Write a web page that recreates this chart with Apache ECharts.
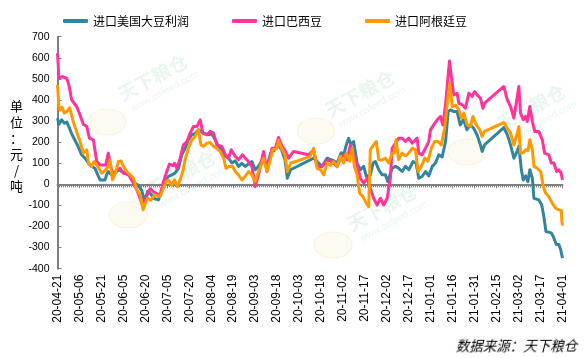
<!DOCTYPE html>
<html><head><meta charset="utf-8">
<script src="https://cdn.jsdelivr.net/npm/echarts@6/dist/echarts.min.js"></script>
<style>html,body{margin:0;padding:0;background:#fff}#wrap{position:relative;width:585px;height:358px}#c{width:585px;height:358px}
#src{position:absolute;left:455px;top:336px;font:13.5px "Noto Sans CJK SC",sans-serif;line-height:18px;color:#000;white-space:nowrap;transform:skewX(-14deg);transform-origin:0 100%}</style>
</head><body><div id="wrap"><div id="c"></div><div id="src"></div></div>
<script>
// x values are days since 2020-04-21
const startDate = '2020-04-21';
const sourceNote = '数据来源：天下粮仓';
const tickLabels = ['20-04-21','20-05-06','20-05-21','20-06-05','20-06-20','20-07-05','20-07-20','20-08-04','20-08-19','20-09-03','20-09-18','20-10-03','20-10-18','20-11-02','20-11-17','20-12-02','20-12-17','21-01-01','21-01-16','21-01-31','21-02-15','21-03-02','21-03-17','21-04-01'];
const yTicks = [-400,-300,-200,-100,0,100,200,300,400,500,600,700];
const seriesNames = ['进口美国大豆利润','进口巴西豆','进口阿根廷豆'];
const seriesColors = ['#31859C','#FF3399','#FF9900'];

const usData = [[0,314],[1,285],[2.9,306],[4.7,290],[6.3,295],[7.9,271],[9.7,240],[11.9,209],[14.2,178],[16.5,140],[18.8,124],[21,101],[23.3,85],[25.6,76],[27.5,45],[29.1,21],[32.5,21],[33.5,45],[34.7,61],[37,45],[39.2,53],[41.6,69],[43.8,61],[46.2,53],[48.4,45],[50.7,37],[53,5],[55.3,-5],[57.6,-30],[59.4,-81],[61.6,-33],[63.8,-45],[65.5,-66],[68.9,-74],[71.2,-33],[73.5,13],[75.7,37],[78,45],[80.3,53],[82.6,76],[84.9,140],[87.2,171],[89.4,211],[91.7,235],[94,240],[96.3,259],[98.6,248],[100.9,240],[103.1,235],[105.4,240],[107.7,211],[110,180],[112.3,156],[114.6,133],[116.8,125],[119.1,101],[121.4,112],[123.7,85],[126,100],[128.2,85],[130.5,96],[132.8,108],[135.1,69],[137.3,85],[140.8,124],[143.1,85],[145.6,148],[148.6,164],[150.9,187],[153.1,164],[155.4,117],[157,29],[159.3,69],[175,124],[177.3,108],[180.7,85],[184.1,124],[188.6,112],[191,101],[193.8,150],[195.5,140],[197.3,187],[198.9,218],[200.5,187],[202.3,203],[204.7,101],[206.9,69],[209.2,85],[211,37],[213.7,45],[215.6,101],[217.2,108],[219.5,69],[221.8,45],[224,45],[225.6,13],[228.6,76],[230.9,85],[233.1,76],[235.4,61],[237.7,85],[240,69],[242.9,108],[245,100],[246.8,29],[249.1,37],[251.4,61],[253.6,40],[256,85],[258.3,101],[260.5,140],[262.8,130],[265.1,203],[266.9,345],[268.5,353],[270.7,345],[273,345],[275.1,282],[277.4,306],[279.7,259],[282,282],[284.3,266],[286.6,235],[288.9,187],[290.1,156],[291.7,187],[304.9,269],[307.3,235],[309.5,187],[311.8,124],[313.6,150],[315.2,180],[316.9,69],[318.2,21],[319.8,40],[321.4,13],[322.7,69],[324.4,29],[325.5,-66],[328.9,-74],[330.8,-98],[332.1,-145],[333.7,-224],[337.3,-230],[338.6,-246],[340.8,-285],[342.5,-285],[343.8,-311],[345,-350]];

const brazilData = [[0,622],[1,503],[3.3,511],[6.3,503],[7.9,468],[9.7,400],[13.1,369],[15.4,329],[17.6,285],[20,274],[21.8,219],[24.5,211],[26.8,108],[29.1,92],[33,92],[34.7,148],[36.4,80],[38.2,45],[40.5,69],[42.7,76],[45,53],[48.4,48],[51.2,13],[54.2,-26],[57.1,-80],[58.5,-108],[61,-55],[63.3,-20],[65.5,-35],[67.9,-45],[70.1,-50],[72.4,13],[74.7,61],[76.5,96],[78.8,89],[79.9,100],[81.5,76],[83.8,124],[86,187],[88.4,202],[90.6,243],[92.9,274],[95.2,274],[97.5,306],[99.3,243],[102.1,235],[104.3,251],[106.6,243],[108.9,187],[112.3,180],[114.6,140],[116.8,124],[118.7,164],[121.4,133],[123.7,117],[126.4,140],[128.2,124],[130.5,108],[132.8,84],[135.1,-10],[137.3,45],[140.8,156],[143.1,61],[146.5,171],[148.8,171],[151,222],[153.4,180],[155.1,164],[157.9,124],[161.3,156],[171.5,140],[175,164],[177.3,84],[180.2,84],[185.2,117],[188.6,100],[191,84],[193.2,124],[195.5,140],[197.8,117],[200.1,187],[202.3,140],[204.7,92],[206.9,29],[209.2,5],[211.5,29],[213.7,-19],[216,-66],[218.3,-98],[220.6,-66],[222.8,-98],[225.2,-66],[227.4,29],[228.6,171],[231.5,202],[233.1,218],[235.4,219],[237.7,203],[240,219],[242.3,195],[245.7,219],[246.8,148],[249.1,140],[251.4,171],[253.6,203],[254.8,258],[257,282],[259.4,306],[261.6,322],[263.2,282],[265.1,377],[266.9,519],[267.8,585],[269.2,503],[270.7,424],[273,432],[274.2,385],[276.5,377],[278.7,361],[281,432],[283.3,417],[284.9,440],[286.7,424],[289,408],[290.6,361],[291.8,385],[304.9,464],[307.3,401],[309.5,369],[311.8,314],[313.6,393],[315.2,464],[316.3,338],[318.2,306],[319.8,322],[320.9,298],[322.7,369],[324.4,298],[326.1,250],[328.9,250],[331.2,211],[332.8,148],[335.7,140],[337.3,101],[339.1,101],[341,61],[342.5,69],[344,55],[345,21]];

const argentinaData = [[0,472],[1,366],[1.7,352],[3,366],[4.7,338],[6.3,345],[7.5,352],[8.4,363],[10.7,298],[13,251],[15.4,203],[17.6,148],[20,164],[21.1,101],[23.3,85],[25.1,108],[27.5,85],[30.2,53],[32.9,69],[34.7,85],[35.9,117],[37.5,21],[39.2,45],[41.6,108],[43.4,111],[45,85],[47.3,61],[49.6,45],[51.9,29],[54.2,-26],[56.5,-50],[58.5,-120],[60.4,-85],[61.6,-66],[63.8,-75],[66.5,-50],[70.1,-58],[71.9,-26],[74.2,13],[75.7,21],[78,-5],[79.9,21],[81.9,-11],[83.8,21],[85.6,61],[87.2,117],[89.4,171],[91.7,211],[94,227],[96.3,259],[98,187],[99.7,180],[102.1,195],[104.3,198],[106.6,180],[108.9,170],[111.1,156],[113.4,124],[115.2,76],[117.5,85],[119.6,85],[121.4,61],[123.7,45],[126,21],[128.2,37],[130.5,61],[132.8,45],[135.1,13],[137.3,61],[139.6,101],[140.8,124],[143.1,61],[145.4,117],[147,164],[150,170],[150.9,208],[153.1,171],[155.4,140],[157,61],[159.3,101],[162.7,108],[172.6,133],[175,171],[177.3,76],[179.6,70],[181.9,45],[184.1,101],[186.4,90],[188.6,108],[191,85],[193.2,133],[195.5,101],[197.3,148],[199.6,110],[201.3,171],[202.8,85],[204.7,45],[206.4,-42],[208.7,-58],[211,-90],[212.6,-106],[213.7,164],[216,187],[217.8,203],[219.5,117],[221.8,115],[224,124],[226.3,101],[228.6,148],[230.2,150],[231.3,211],[233,117],[235.4,148],[237.7,135],[240,148],[242.3,171],[244.6,165],[246.3,61],[248.6,85],[250.9,124],[253.1,110],[255.4,171],[257.6,203],[259.9,203],[262.2,187],[264.5,266],[266.9,424],[268,480],[269.7,369],[272,375],[274.2,353],[276,314],[277.6,338],[279.9,282],[282.1,275],[283.8,322],[286.1,282],[288.4,259],[290.1,227],[291.7,251],[304.9,293],[307.3,266],[309.5,243],[311.8,187],[313.6,230],[315.2,274],[316.3,148],[318.2,150],[319.8,164],[321.4,160],[322.7,211],[324.4,164],[325.5,85],[327.8,76],[330.1,61],[331.9,-11],[333.5,-42],[335.7,-58],[338,-90],[340.3,-113],[342.5,-121],[344.2,-125],[344.6,-178],[345,-195]];

const allData = [usData, brazilData, argentinaData];
const dayMax = (tickLabels.length - 1) * 15;
document.getElementById('src').textContent = sourceNote;

// faint background watermark tiles (decoration)
const wmText = [[124,104],[152,200],[331,120],[353,234],[502,134]];
const wmLogo = [[107,122],[128,215],[316,131],[333,245],[467,152]];
const graphics = [];
wmLogo.forEach(p => graphics.push({type: 'ellipse', z: -10, silent: true,
  shape: {cx: p[0], cy: p[1], rx: 19, ry: 13}, style: {fill: 'rgba(250,243,215,0.35)', stroke: 'rgba(240,232,190,0.4)', lineWidth: 1.2}}));
wmText.forEach(p => {
  graphics.push({type: 'text', z: -10, silent: true, x: p[0], y: p[1], rotation: 0.5,
    style: {text: '天下粮仓', font: 'bold 19px "Noto Sans CJK SC"', fill: 'rgba(200,232,210,0.4)', textVerticalAlign: 'bottom'}});
  graphics.push({type: 'text', z: -10, silent: true, x: p[0] + 10, y: p[1] + 10, rotation: 0.5,
    style: {text: 'www.cofeed.com', font: '10px "Liberation Sans"', fill: 'rgba(200,232,210,0.4)', textVerticalAlign: 'bottom'}});
});
graphics.push({type: 'text', left: 10, top: 98, style: {text: '单\n位\n：\n元\n/\n吨', font: '13px "Noto Sans CJK SC"', lineHeight: 16, fill: '#000', textAlign: 'center'}});

const chart = echarts.init(document.getElementById('c'), null, {renderer: 'canvas'});
chart.setOption({
  animation: false,
  backgroundColor: '#fff',
  textStyle: {fontFamily: '"Liberation Sans", Arial, sans-serif'},
  legend: {
    data: seriesNames, left: 58, top: 10, itemWidth: 25, itemHeight: 4, itemGap: 43,
    icon: 'roundRect',
    textStyle: {fontSize: 12, color: '#000', fontFamily: '"Noto Sans CJK SC", sans-serif'}
  },
  grid: {containLabel: false, left: 57.5, right: 22.5, top: 36.7, bottom: 89.3},
  xAxis: [{
    type: 'value', min: 0, max: dayMax, interval: 15,
    axisLine: {show: false, onZero: false}, axisTick: {show: false}, splitLine: {show: false},
    axisLabel: {rotate: 90, fontSize: 12, color: '#000', margin: 6,
      formatter: v => tickLabels[Math.round(v / 15)] || ''}
  }, {
    type: 'value', min: 0, max: dayMax, interval: 15, position: 'bottom',
    axisLine: {show: true, onZero: true, lineStyle: {color: '#808080', width: 2}},
    axisTick: {show: true, length: 4, lineStyle: {color: '#808080', width: 1}},
    minorTick: {show: true, splitNumber: 11, length: 3, lineStyle: {color: '#808080', width: 1}},
    axisLabel: {show: false}, splitLine: {show: false}
  }],
  yAxis: {
    type: 'value', min: yTicks[0], max: yTicks[yTicks.length - 1], interval: 100,
    axisLine: {show: true, lineStyle: {color: '#808080', width: 2}},
    axisTick: {show: true, inside: true, length: 4, lineStyle: {color: '#808080'}},
    axisLabel: {fontSize: 10.5, color: '#000', margin: 8},
    splitLine: {show: false}
  },
  graphic: graphics,
  series: seriesNames.map((n, i) => ({
    name: n, type: 'line', data: allData[i], xAxisIndex: 0, yAxisIndex: 0,
    showSymbol: false, symbol: 'none', color: seriesColors[i],
    lineStyle: {width: 3, color: seriesColors[i], join: 'round'}
  }))
});
</script></body></html>
